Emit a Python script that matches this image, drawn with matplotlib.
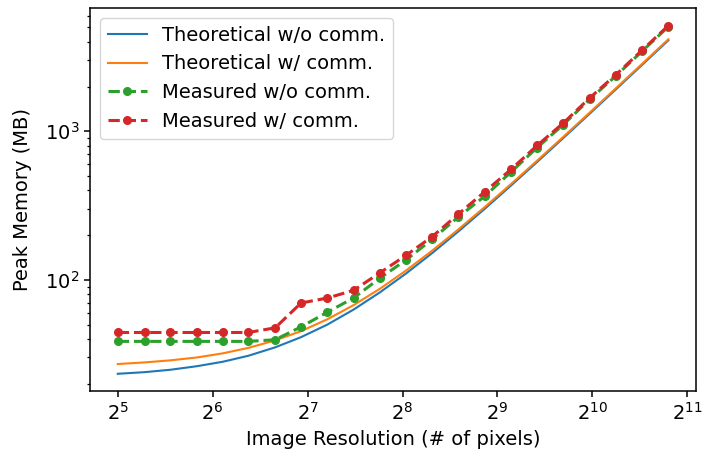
import matplotlib
matplotlib.use('Agg')
import matplotlib.pyplot as plt

plt.rcParams.update({
    'font.size': 14,
    'font.family': ['DejaVu Sans'],
    'axes.linewidth': 1.1,
    'xtick.major.size': 4.5,
    'ytick.major.size': 4.5,
    'xtick.major.width': 1.1,
    'ytick.major.width': 1.1,
    'ytick.minor.size': 2.5,
    'ytick.minor.width': 0.9,
})

# image resolution (# of pixels per side)
resolution = [32, 39, 47, 57, 69, 83, 101, 122, 148, 179, 217, 263,
              318, 385, 467, 565, 684, 829, 1004, 1216, 1473, 1783]

theo_wo = [23.3, 23.9, 24.8, 26.2, 28.1, 30.8, 35.1, 41.1, 50.0, 63.0, 82.3, 110.5,
           151.4, 211.7, 301, 430.6, 621, 901.7, 1312, 1915, 2799, 4091]
theo_w = [27.1, 27.8, 28.7, 30.0, 32.0, 34.8, 39.1, 45.1, 54.3, 67.5, 87.0, 115.7,
          157.3, 218.5, 309.3, 440.8, 634, 919, 1336, 1948, 2846, 4159]
meas_wo = [38.5, 38.5, 38.5, 38.5, 38.5, 38.5, 39.5, 48.2, 60.6, 75.4, 102.6, 136.3,
           187.5, 265, 366, 531, 776, 1110, 1640, 2360, 3460, 5060]
meas_w = [44.2, 44.2, 44.2, 44.2, 44.2, 44.2, 47.5, 69.8, 75.4, 84.9, 111.4, 146.5,
          195.4, 277, 392, 553, 802, 1138, 1675, 2404, 3516, 5140]

fig = plt.figure(figsize=(7.05, 4.57), dpi=100)
ax = fig.add_axes([0.128, 0.144, 0.859, 0.838])

ax.plot(resolution, theo_wo, color='C0', linewidth=1.5, label='Theoretical w/o comm.')
ax.plot(resolution, theo_w, color='C1', linewidth=1.5, label='Theoretical w/ comm.')
ax.plot(resolution, meas_wo, color='C2', linestyle='--', marker='o', linewidth=2.2,
        markersize=5.5, label='Measured w/o comm.')
ax.plot(resolution, meas_w, color='C3', linestyle='--', marker='o', linewidth=2.2,
        markersize=5.5, label='Measured w/ comm.')

ax.set_xscale('log', base=2)
ax.set_yscale('log')
ax.set_xlabel('Image Resolution (# of pixels)')
ax.set_ylabel('Peak Memory (MB)', labelpad=9)
ax.legend(loc='upper left')

fig.savefig('out.png')
